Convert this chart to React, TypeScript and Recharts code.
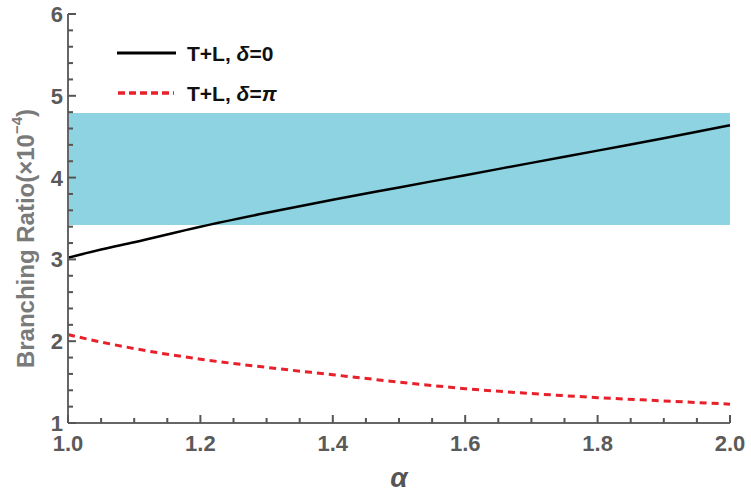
import { LineChart, Line, XAxis, YAxis, ReferenceArea, Legend } from 'recharts';

const alpha = [1.0, 1.05, 1.1, 1.2, 1.3, 1.4, 1.5, 1.6, 1.7, 1.8, 1.9, 2.0];
const deltaZero = [3.02, 3.12, 3.21, 3.4, 3.57, 3.73, 3.88, 4.03, 4.18, 4.33, 4.48, 4.64];
const deltaPi = [2.08, 1.99, 1.91, 1.78, 1.68, 1.59, 1.5, 1.42, 1.36, 1.31, 1.27, 1.23];

const band = [3.42, 4.79];

const xTicks = [1.0, 1.05, 1.1, 1.15, 1.2, 1.25, 1.3, 1.35, 1.4, 1.45, 1.5, 1.55, 1.6, 1.65, 1.7, 1.75, 1.8, 1.85, 1.9, 1.95, 2.0];
const xLabels = [1.0, 1.2, 1.4, 1.6, 1.8, 2.0];
const yTicks = [1, 1.2, 1.4, 1.6, 1.8, 2, 2.2, 2.4, 2.6, 2.8, 3, 3.2, 3.4, 3.6, 3.8, 4, 4.2, 4.4, 4.6, 4.8, 5, 5.2, 5.4, 5.6, 5.8, 6];
const yLabels = [1, 2, 3, 4, 5, 6];

const seriesNames = ['T+L, δ=0', 'T+L, δ=π'];

const data = alpha.map((a, i) => ({ a, zero: deltaZero[i], pi: deltaPi[i] }));

const AXIS = '#666';
const MARK = '#555';
const MAJOR = 8;
const MINOR = 5;
const TICK_FONT = { fontFamily: 'Liberation Sans, Arial, sans-serif', fontSize: 22, fontWeight: 700, fill: '#5a5a5a' };

const isMajor = (v: number, list: number[]) => list.some((m) => Math.abs(m - v) < 1e-6);

const BottomTick = (props: any) => {
  const { x, y, payload } = props;
  const major = isMajor(payload.value, xLabels);
  const len = major ? MAJOR : MINOR;
  return (
    <g>
      <rect x={x - 1} y={y - len} width={2} height={len} fill={MARK} />
      {major && (
        <text x={x} y={y + 28} textAnchor="middle" {...TICK_FONT}>
          {payload.value.toFixed(1)}
        </text>
      )}
    </g>
  );
};

const TopTick = (props: any) => {
  const { x, y, payload } = props;
  const len = isMajor(payload.value, xLabels) ? MAJOR : MINOR;
  return <rect x={x - 1} y={y} width={2} height={len} fill={MARK} />;
};

const LeftTick = (props: any) => {
  const { x, y, payload } = props;
  const major = isMajor(payload.value, yLabels);
  const len = major ? MAJOR : MINOR;
  return (
    <g>
      <rect x={x} y={y - 1} width={len} height={2} fill={MARK} />
      {major && (
        <text x={x - 5} y={y + 8} textAnchor="end" {...TICK_FONT}>
          {String(payload.value)}
        </text>
      )}
    </g>
  );
};

const RightTick = (props: any) => {
  const { x, y, payload } = props;
  const len = isMajor(payload.value, yLabels) ? MAJOR : MINOR;
  return <rect x={x - len} y={y - 1} width={len} height={2} fill={MARK} />;
};

const YTitle = (props: any) => {
  const vb = props.viewBox;
  const cx = vb.x + 25;
  const cy = vb.y + vb.height / 2 + 20;
  return (
    <text
      x={cx}
      y={cy}
      transform={`rotate(-90, ${cx}, ${cy})`}
      textAnchor="middle"
      dominantBaseline="central"
      fontFamily="Liberation Sans, Arial, sans-serif"
      fontSize={24}
      fontWeight={700}
      fill="#7a7a7a"
    >
      Branching Ratio(×10
      <tspan dy={-9} fontSize={15}>−4</tspan>
      <tspan dy={9}>)</tspan>
    </text>
  );
};

const XTitle = (props: any) => {
  const vb = props.viewBox;
  return (
    <text
      x={vb.x + vb.width / 2}
      y={vb.y + 64}
      textAnchor="middle"
      fontFamily="Liberation Sans, Arial, sans-serif"
      fontStyle="italic"
      fontWeight={700}
      fontSize={28}
      fill="#555"
    >
      α
    </text>
  );
};

const LegendBox = () => (
  <svg width={220} height={80}>
    <line x1={17} y1={23} x2={76} y2={23} stroke="#000" strokeWidth={3} />
    <text x={87} y={31} fontFamily="Liberation Sans, Arial, sans-serif" fontSize={21} fontWeight={700} fill="#111">
      T+L, <tspan fontStyle="italic">δ</tspan>=0
    </text>
    <line x1={18} y1={63} x2={74} y2={63} stroke="#e8202a" strokeWidth={3.5} strokeDasharray="7 4" />
    <text x={87} y={71} fontFamily="Liberation Sans, Arial, sans-serif" fontSize={21} fontWeight={700} fill="#111">
      T+L, <tspan fontStyle="italic">δ</tspan>=<tspan fontStyle="italic">π</tspan>
    </text>
  </svg>
);

export default function App() {
  return (
    <div style={{ position: 'absolute', left: 0, top: 0, width: 751, height: 494, background: '#fff' }}>
      <LineChart width={751} height={494} data={data} margin={{ top: 14, right: 21, left: 0, bottom: 0 }}>
        <ReferenceArea y1={band[0]} y2={band[1]} x1={1} x2={2} fill="#8ED3E1" fillOpacity={1} stroke="none" ifOverflow="hidden" />
        <XAxis
          dataKey="a"
          type="number"
          domain={[1, 2]}
          ticks={xTicks}
          interval={0}
          height={71}
          tickSize={0}
          tickMargin={0}
          tickLine={false}
          tick={BottomTick}
          axisLine={{ stroke: AXIS, strokeWidth: 2 }}
          label={<XTitle />}
        />
        <XAxis
          xAxisId="top"
          orientation="top"
          dataKey="a"
          type="number"
          domain={[1, 2]}
          ticks={xTicks}
          interval={0}
          height={0}
          tickSize={0}
          tickMargin={0}
          tickLine={false}
          tick={TopTick}
          axisLine={{ stroke: AXIS, strokeWidth: 2 }}
        />
        <YAxis
          type="number"
          domain={[1, 6]}
          ticks={yTicks}
          interval={0}
          width={68}
          tickSize={0}
          tickMargin={0}
          tickLine={false}
          tick={LeftTick}
          axisLine={{ stroke: AXIS, strokeWidth: 2 }}
          label={<YTitle />}
        />
        <YAxis
          yAxisId="right"
          orientation="right"
          type="number"
          domain={[1, 6]}
          ticks={yTicks}
          interval={0}
          width={0}
          tickSize={0}
          tickMargin={0}
          tickLine={false}
          tick={RightTick}
          axisLine={{ stroke: AXIS, strokeWidth: 2 }}
        />
        <Line
          type="monotone"
          dataKey="zero"
          yAxisId="right"
          name={seriesNames[0]}
          stroke="#000"
          strokeWidth={2.5}
          dot={false}
          isAnimationActive={false}
        />
        <Line
          type="monotone"
          dataKey="pi"
          xAxisId="top"
          name={seriesNames[1]}
          stroke="#e8202a"
          strokeWidth={3}
          strokeDasharray="7 5"
          dot={false}
          isAnimationActive={false}
        />
        <Legend
          layout="vertical"
          align="center"
          verticalAlign="middle"
          wrapperStyle={{ left: 100, top: 30, width: 220, height: 80 }}
          content={() => <LegendBox />}
        />
      </LineChart>
    </div>
  );
}
